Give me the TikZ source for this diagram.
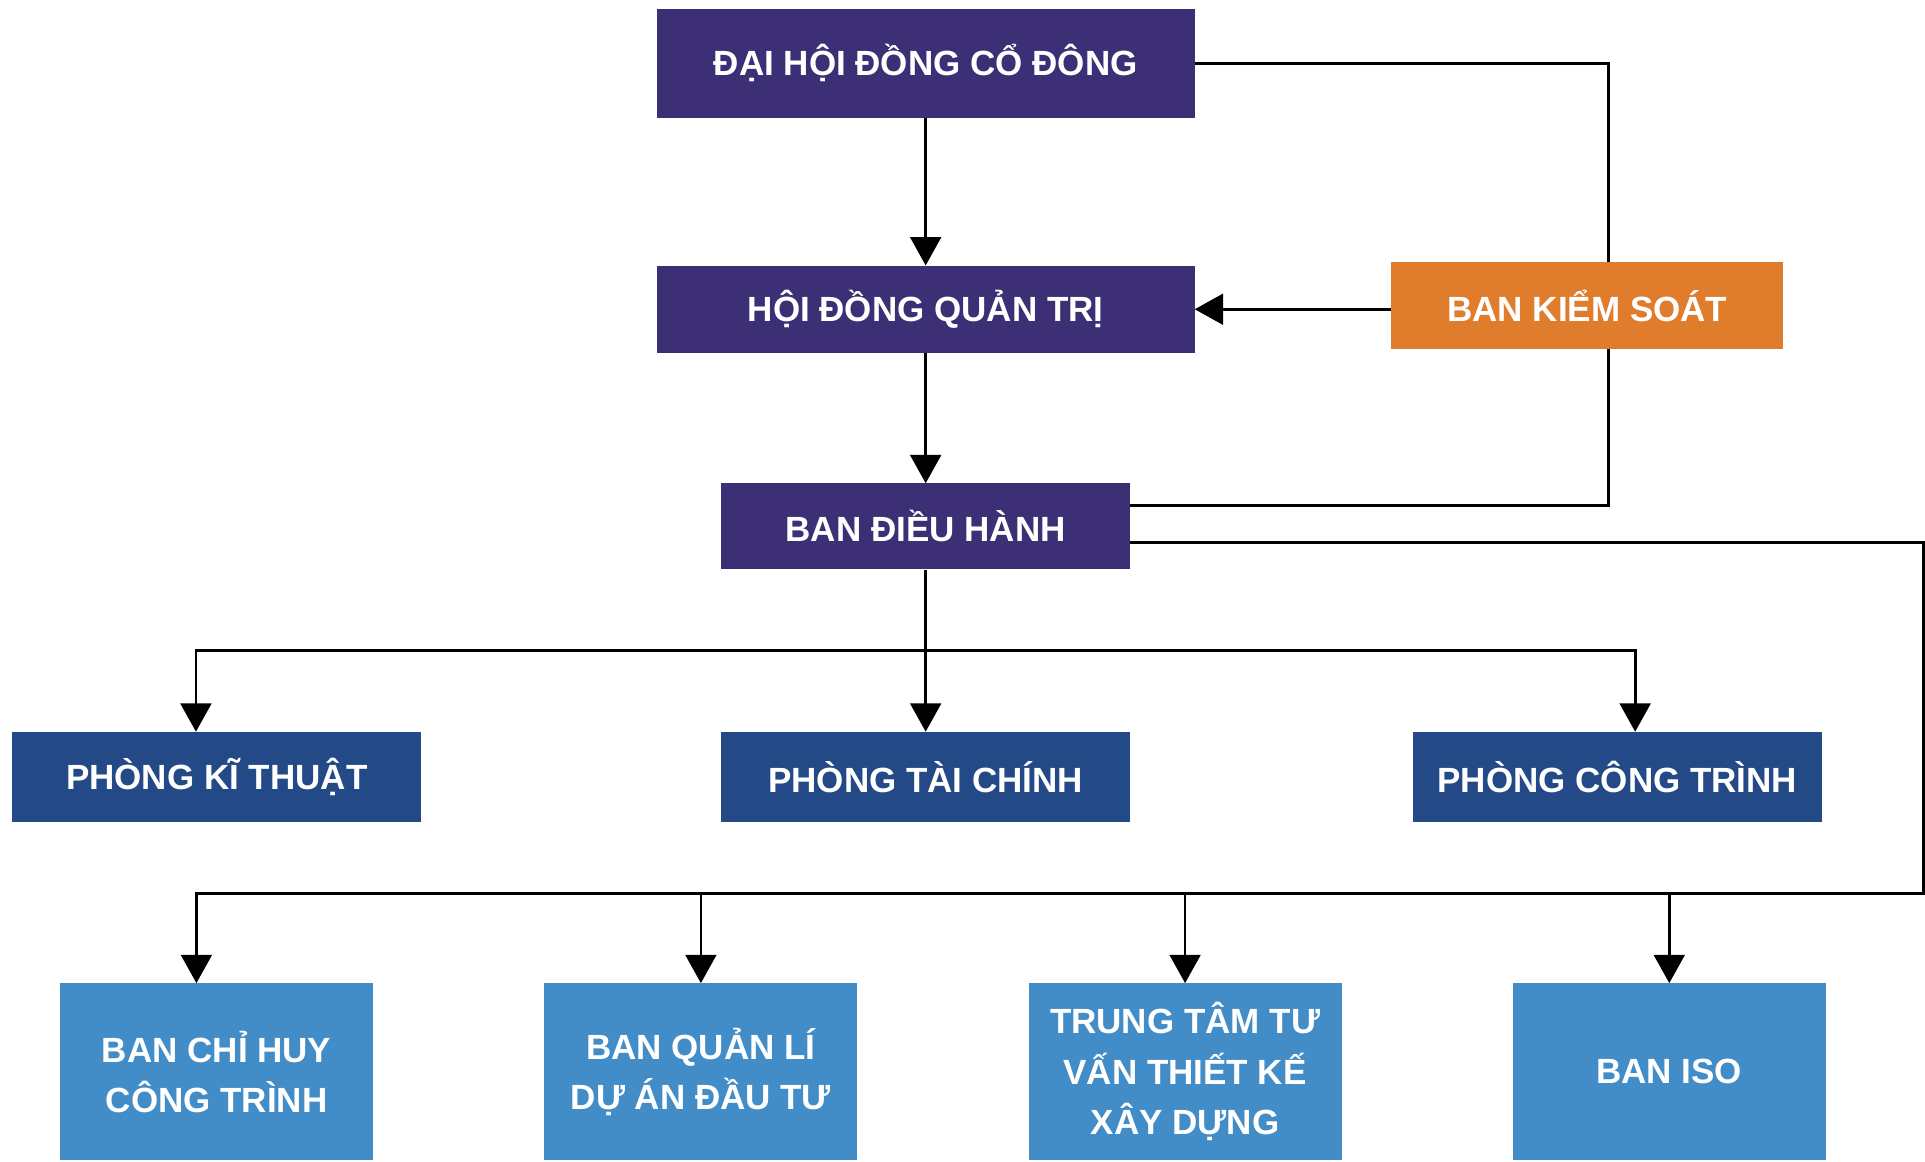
\documentclass[tikz,border=0pt]{standalone}
\usepackage{fontspec}
\setmainfont{Liberation Sans}
\usetikzlibrary{positioning, arrows.meta, calc}

\definecolor{tim}{HTML}{3D2F76}
\definecolor{xanhdam}{HTML}{234A87}
\definecolor{xanhnhat}{HTML}{428CC7}
\definecolor{cam}{HTML}{E07D2C}

\begin{document}
\begin{tikzpicture}[x=1pt, y=-1pt,
	hop/.style={rectangle, text=white, inner sep=0pt, align=center,
		font=\bfseries\fontsize{28.5}{41}\selectfont},
	noi/.style={line width=2.2pt, black},
	muiten/.style={-{Triangle[width=25pt,length=23pt]}}]
					\useasboundingbox (0,0) rectangle (1568,946);

					\node[hop, fill=tim, minimum width=438pt, minimum height=89pt] (dhdcd) at (754,51.5) {ĐẠI HỘI ĐỒNG CỔ ĐÔNG};
					\node[hop, fill=tim, minimum width=438pt, minimum height=71pt, below=120pt of dhdcd] (hdqt) {HỘI ĐỒNG QUẢN TRỊ};
					\node[hop, fill=cam, minimum width=319pt, minimum height=71pt, right=160pt of hdqt, yshift=3pt] (bks) {BAN KIỂM SOÁT};
					\node[hop, fill=tim, minimum width=333pt, minimum height=70pt, below=106pt of hdqt] (bdh) {BAN ĐIỀU HÀNH};

					\node[hop, fill=xanhdam, minimum width=333pt, minimum height=73pt, below=132pt of bdh] (ptc) {PHÒNG TÀI CHÍNH};
					\node[hop, fill=xanhdam, minimum width=333pt, minimum height=73pt, left=244pt of ptc] (pkt) {PHÒNG KĨ THUẬT};
					\node[hop, fill=xanhdam, minimum width=333pt, minimum height=73pt, right=230pt of ptc] (pct) {PHÒNG CÔNG TRÌNH};

					\node[hop, fill=xanhnhat, minimum width=255pt, minimum height=144pt] (bch) at (176.5,873) {BAN CHỈ HUY\\CÔNG TRÌNH};
					\node[hop, fill=xanhnhat, minimum width=255pt, minimum height=144pt, right=139pt of bch] (bql) {BAN QUẢN LÍ\\DỰ ÁN ĐẦU TƯ};
					\node[hop, fill=xanhnhat, minimum width=255pt, minimum height=144pt, right=139pt of bql] (tt) {TRUNG TÂM TƯ\\VẤN THIẾT KẾ\\XÂY DỰNG};
					\node[hop, fill=xanhnhat, minimum width=255pt, minimum height=144pt, right=139pt of tt] (iso) {BAN ISO};

					\coordinate (re1) at ($(bdh.south)!0.5!(ptc.north)$);
					\coordinate (goc) at (1567,728);

					\draw[noi, muiten] (dhdcd) -- (hdqt);
					\draw[noi, muiten] (hdqt) -- (bdh);
					\draw[noi, muiten] (hdqt.east -| bks.west) -- (hdqt.east);
					\draw[noi] (dhdcd.east) -| ($(bks.north)+(17.5,0)$);
					\draw[noi] ($(bks.south)+(17.5,0)$) |- ($(bdh.east)+(0,-17)$);

					\draw[noi, muiten] (bdh) -- (ptc);
					\draw[noi, muiten] (re1) -| ($(pkt.north)+(-17,0)$);
					\draw[noi, muiten] (re1) -| ($(pct.north)+(14.5,0)$);

					\draw[noi, muiten] ($(bdh.east)+(0,13)$) -| (goc) -| ($(bch.north)+(-16.5,0)$);
					\foreach \n in {bql, tt, iso}
						\draw[noi, muiten] (goc -| \n.north) -- (\n.north);
				\end{tikzpicture}
\end{document}
